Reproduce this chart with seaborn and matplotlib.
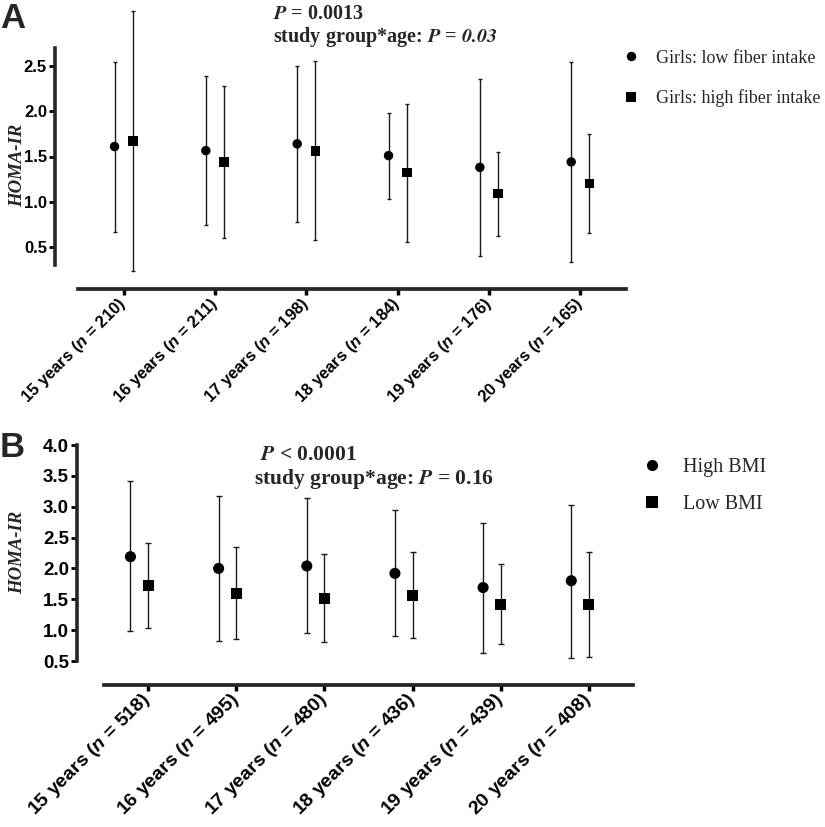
import numpy as np
import pandas as pd
import matplotlib
matplotlib.use("Agg")
import matplotlib.pyplot as plt
import seaborn as sns

#### data ####
ages = ['15 years', '16 years', '17 years', '18 years', '19 years', '20 years']
n_fiber = [210, 211, 198, 184, 176, 165]
n_bmi = [518, 495, 480, 436, 439, 408]

fiber_groups = ['Girls: low fiber intake', 'Girls: high fiber intake']
fiber_low_mean = [1.61, 1.565, 1.64, 1.51, 1.38, 1.44]
fiber_low_lo = [0.67, 0.74, 0.78, 1.03, 0.40, 0.33]
fiber_low_hi = [2.55, 2.39, 2.50, 1.98, 2.36, 2.55]
fiber_high_mean = [1.67, 1.44, 1.56, 1.32, 1.09, 1.20]
fiber_high_lo = [0.23, 0.60, 0.58, 0.55, 0.62, 0.65]
fiber_high_hi = [3.11, 2.28, 2.56, 2.08, 1.55, 1.75]

bmi_groups = ['High BMI', 'Low BMI']
bmi_high_mean = [2.19, 2.00, 2.04, 1.92, 1.69, 1.80]
bmi_high_lo = [0.99, 0.82, 0.95, 0.91, 0.63, 0.55]
bmi_high_hi = [3.41, 3.18, 3.14, 2.94, 2.74, 3.03]
bmi_low_mean = [1.72, 1.59, 1.51, 1.56, 1.42, 1.42]
bmi_low_lo = [1.04, 0.85, 0.80, 0.88, 0.78, 0.57]
bmi_low_hi = [2.42, 2.35, 2.23, 2.26, 2.07, 2.27]

sns.set_style('ticks')
plt.rcParams['font.family'] = ['Liberation Sans', 'DejaVu Sans']
plt.rcParams['mathtext.fontset'] = 'custom'
plt.rcParams['mathtext.it'] = 'Liberation Sans:italic:bold'
plt.rcParams['mathtext.rm'] = 'Liberation Sans:bold'
plt.rcParams['mathtext.bf'] = 'Liberation Sans:bold'


def make_df(groups, means, los, his, offsets):
    rows = []
    for g, m, lo, hi, off in zip(groups, means, los, his, offsets):
        for i in range(len(ages)):
            rows.append({'group': g, 'pos': i + off, 'mean': m[i], 'lo': lo[i], 'hi': hi[i]})
    return pd.DataFrame(rows)


def draw_panel(ax, df, groups, n_list, ms, capsize, ylim, yticks,
               ytick_size, xtick_size, offsets_pt, leg_anchor, leg_size,
               leg_spacing, leg_pad):
    for g in groups:
        sub = df[df['group'] == g]
        eb = ax.errorbar(sub['pos'], sub['mean'],
                         yerr=[sub['mean'] - sub['lo'], sub['hi'] - sub['mean']],
                         fmt='none', ecolor='#1a1a1a', elinewidth=1.0,
                         capsize=capsize, capthick=1.0, zorder=2)
        for art in eb.lines[1] + eb.lines[2]:
            art.set_clip_on(False)
    sns.scatterplot(data=df, x='pos', y='mean', style='group', style_order=groups,
                    markers={groups[0]: 'o', groups[1]: 's'}, color='black',
                    s=ms ** 2, linewidth=0, ax=ax, zorder=3, clip_on=False)
    # moving spines resets the ticks, so do it before styling tick labels
    sns.despine(ax=ax, offset={'left': offsets_pt[0], 'bottom': offsets_pt[1]})
    ax.spines['left'].set_linewidth(2.6)
    ax.spines['bottom'].set_linewidth(2.7)
    ax.set_xlim(-0.5, 5.5)
    ax.set_ylim(*ylim)
    ax.tick_params(axis='y', length=4.3, width=2, pad=1.5, colors='black')
    ax.tick_params(axis='x', length=4.5, width=2.5, pad=4, colors='black')
    ax.set_yticks(yticks)
    ax.set_yticklabels([f'{t:.1f}' for t in yticks], fontweight='bold', fontsize=ytick_size)
    ax.set_xticks(range(len(ages)))
    ax.set_xticklabels([f'{a} ($n$ = {n})' for a, n in zip(ages, n_list)],
                       rotation=45, ha='right', va='center', rotation_mode='anchor',
                       fontweight='bold', fontsize=xtick_size)
    ax.set_xlabel('')
    ax.set_ylabel('')
    sns.move_legend(ax, 'center left', bbox_to_anchor=leg_anchor, frameon=False,
                    title=None, prop={'family': 'Liberation Serif', 'size': leg_size},
                    handlelength=1.0, handletextpad=leg_pad, labelspacing=leg_spacing,
                    borderpad=0, borderaxespad=0)


fig = plt.figure(figsize=(8.25, 8.27), dpi=100)
W, H = 825, 827
axA = fig.add_axes([78 / W, 1 - 265 / H, 548 / W, 217 / H])
axB = fig.add_axes([104 / W, 1 - 661 / H, 529 / W, 216 / H])

dfA = make_df(fiber_groups, [fiber_low_mean, fiber_high_mean],
              [fiber_low_lo, fiber_high_lo], [fiber_low_hi, fiber_high_hi], [-0.1, 0.1])
dfB = make_df(bmi_groups, [bmi_high_mean, bmi_low_mean],
              [bmi_high_lo, bmi_low_lo], [bmi_high_hi, bmi_low_hi], [-0.2, 0.0])

draw_panel(axA, dfA, fiber_groups, n_fiber, ms=6.8, capsize=1.5, ylim=(0.3, 2.7),
           yticks=[0.5, 1.0, 1.5, 2.0, 2.5], ytick_size=12, xtick_size=12,
           offsets_pt=(16.6, 17.3), leg_anchor=(0.993, 0.86), leg_size=13,
           leg_spacing=1.25, leg_pad=0.9)
draw_panel(axB, dfB, bmi_groups, n_bmi, ms=8, capsize=2, ylim=(0.5, 4.0),
           yticks=[0.5, 1.0, 1.5, 2.0, 2.5, 3.0, 3.5, 4.0], ytick_size=13.5, xtick_size=14,
           offsets_pt=(19.4, 17.3), leg_anchor=(1.017, 0.81), leg_size=14.5,
           leg_spacing=0.85, leg_pad=1.05)

# y-axis titles
for yc in (165, 552):
    fig.text(17.5 / W, 1 - yc / H, 'HOMA-IR', rotation=90, ha='center', va='center',
             family='Liberation Serif', style='italic', fontweight='bold', fontsize=13.5)

# panel letters
fig.text(0 / W, 1 - 2 / H, 'A', ha='left', va='top', fontweight='bold', fontsize=25)
fig.text(0 / W, 1 - 431 / H, 'B', ha='left', va='top', fontweight='bold', fontsize=25)

# statistics annotations
serif = dict(family='Liberation Serif', fontweight='bold', math_fontfamily='stix', va='baseline')
fig.text(273 / W, 1 - 19 / H, r'$\mathbfit{P}$ = 0.0013', fontsize=14.5, **serif)
fig.text(273 / W, 1 - 42 / H, r'study group*age: $\mathbfit{P}$ = $\mathbfit{0.03}$',
         fontsize=14.5, **serif)
fig.text(260 / W, 1 - 460 / H, r'$\mathbfit{P}$ < 0.0001', fontsize=15.5, **serif)
fig.text(254 / W, 1 - 484 / H, r'study group*age: $\mathbfit{P}$ = 0.16', fontsize=15.5, **serif)

fig.savefig('out.png', dpi=100)
